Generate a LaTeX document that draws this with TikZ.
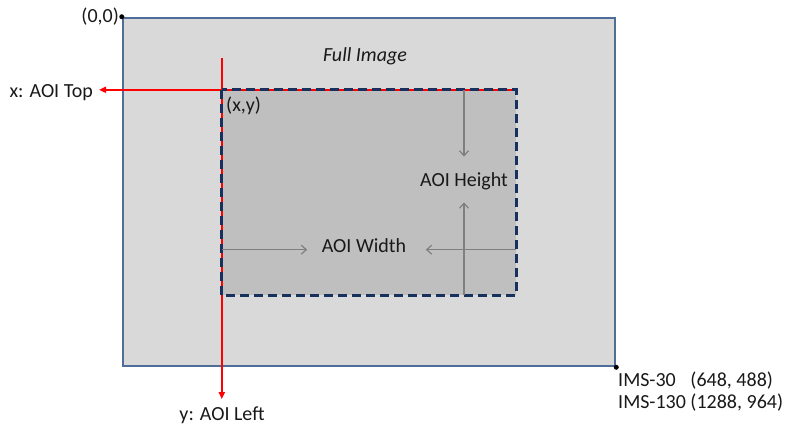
\documentclass[tikz,border=0pt]{standalone}
\usepackage{fontspec}
\setmainfont{Carlito}
\usetikzlibrary{arrows.meta, positioning, calc}
\definecolor{frame}{HTML}{4F6D96}
\definecolor{fullFill}{HTML}{D9D9D9}
\definecolor{aoiFill}{HTML}{BFBFBF}
\definecolor{aoiEdge}{HTML}{17305E}
\definecolor{dimGray}{HTML}{7F7F7F}

\begin{document}
\begin{tikzpicture}[
  x=1pt, y=-1pt,
  font=\fontsize{20}{22.7}\selectfont,
  every node/.style={align=center, inner sep=0pt, text=black!90},
  fullbox/.style={rectangle, draw=frame, fill=fullFill, line width=2.5pt,
    minimum width=492pt, minimum height=348pt},
  aoibox/.style={rectangle, fill=aoiFill, minimum width=294pt, minimum height=205pt},
  aoiedge/.style={draw=aoiEdge, line width=3pt, dash pattern=on 9pt off 5pt},
  redarrow/.style={-{Triangle[length=7pt, width=6pt]}, draw=red, line width=2.2pt},
  dimarrow/.style={-{Straight Barb[length=5pt, width=9pt]}, draw=dimGray, line width=1.2pt},
  dot/.style={circle, fill=black, inner sep=0pt, minimum size=5pt},
]
  \useasboundingbox (0,0) rectangle (791,425);

  % full image frame
  \node[fullbox] (full) at (369,192) {};
  \node[dot] (origin) at (full.north west) {};
  \node[dot] (corner) at (full.south east) {};
  \node[left=0pt of origin] (origlbl) {(0,0)};
  \node[anchor=base] (fulllbl) at (365,61.7) {\itshape Full Image};

  % area of interest
  \node[aoibox] (aoi) at (369,192.5) {};
  \node[anchor=base west] (xylbl) at (226,111) {(x,y)};
  \node[anchor=base] (hlbl) at (464,186.7) {AOI Height};
  \node[anchor=base] (wlbl) at (364,252.7) {AOI Width};

  % offsets
  \node[anchor=base east] (toplbl) at (93,97.3) {x: AOI Top};
  \node[anchor=base] (leftlbl) at (222,420) {y: AOI Left};
  \coordinate (vtop) at ([yshift=32pt]aoi.north west);
  \draw[redarrow, shorten >=6pt] (aoi.north east) -- (toplbl.east |- aoi.north);
  \draw[redarrow, shorten >=7pt] (vtop) -- (vtop |- leftlbl.north);
  \draw[aoiedge] (aoi.north west) rectangle (aoi.south east);

  % size arrows
  \coordinate (wrow) at ([yshift=3pt]wlbl.base);
  \draw[dimarrow, shorten >=16pt] (hlbl |- aoi.north) -- (hlbl.north);
  \draw[dimarrow, shorten >=12pt] (hlbl |- aoi.south) -- (hlbl.south);
  \draw[dimarrow, shorten >=14.5pt] (aoi.west |- wrow) -- (wlbl.west |- wrow);
  \draw[dimarrow, shorten >=19.5pt] (aoi.east |- wrow) -- (wlbl.east |- wrow);

  % sensor sizes
  \node[anchor=north west] (imslbl) at (618,370)
    {\begin{tabular}{@{}l@{\ }l@{}}IMS-30 & (648, 488)\\ IMS-130 & (1288, 964)\end{tabular}};
\end{tikzpicture}
\end{document}
